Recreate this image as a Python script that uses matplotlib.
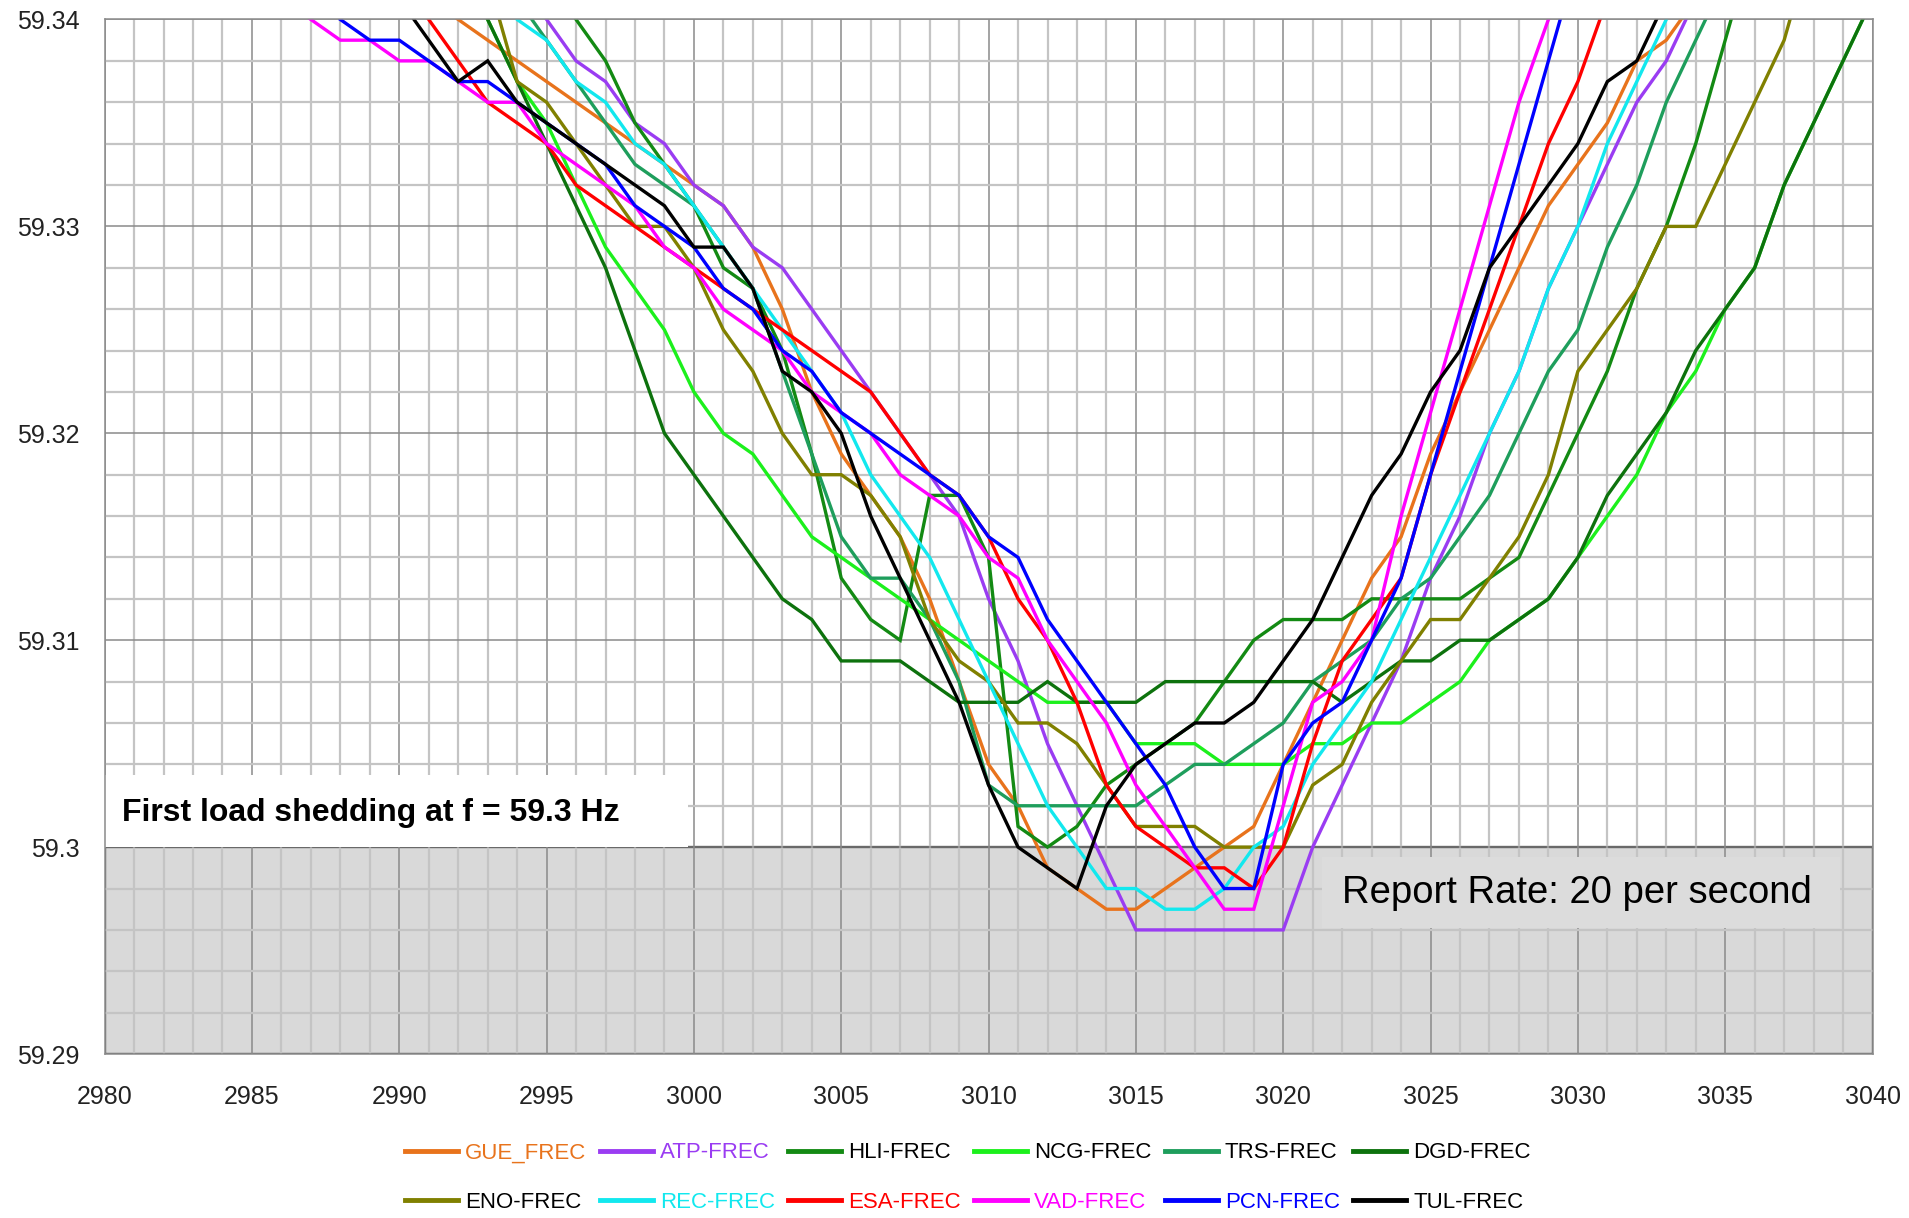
import numpy as np
import matplotlib
matplotlib.use("Agg")
import matplotlib.pyplot as plt
from matplotlib.patches import Rectangle
from matplotlib.ticker import MultipleLocator, FuncFormatter

plt.rcParams['font.family'] = ['Liberation Sans', 'DejaVu Sans']

# frecuencia medida en cada PMU (Hz), una muestra por segundo de reporte
t_gue = np.arange(2991, 3035)
f_gue = [59.341, 59.340, 59.339, 59.338, 59.337, 59.336, 59.335, 59.334, 59.333, 59.332,
         59.331, 59.329, 59.326, 59.322, 59.319, 59.317, 59.315, 59.312, 59.308, 59.304,
         59.302, 59.299, 59.298, 59.297, 59.297, 59.298, 59.299, 59.300, 59.301, 59.304,
         59.307, 59.310, 59.313, 59.315, 59.319, 59.322, 59.325, 59.328, 59.331, 59.333,
         59.335, 59.338, 59.339, 59.341]

t_atp = np.arange(2994, 3035)
f_atp = [59.342, 59.340, 59.338, 59.337, 59.335, 59.334, 59.332,
         59.331, 59.329, 59.328, 59.326, 59.324, 59.322, 59.320, 59.318, 59.316, 59.312,
         59.309, 59.305, 59.302, 59.299, 59.296, 59.296, 59.296, 59.296, 59.296, 59.296,
         59.300, 59.303, 59.306, 59.309, 59.313, 59.316, 59.320, 59.323, 59.327, 59.330,
         59.333, 59.336, 59.338, 59.341]

t_hli = np.arange(2996, 3037)
f_hli = [59.340, 59.338, 59.335, 59.333, 59.331,
         59.328, 59.327, 59.324, 59.319, 59.313, 59.311, 59.310, 59.317, 59.317, 59.314,
         59.301, 59.300, 59.301, 59.303, 59.304, 59.305, 59.306, 59.308, 59.310, 59.311,
         59.311, 59.311, 59.312, 59.312, 59.312, 59.312, 59.313, 59.314, 59.317, 59.320,
         59.323, 59.327, 59.330, 59.334, 59.339, 59.344]

t_ncg = np.arange(2993, 3041)
f_ncg = [59.340, 59.337, 59.335, 59.332, 59.329, 59.327, 59.325, 59.322,
         59.320, 59.319, 59.317, 59.315, 59.314, 59.313, 59.312, 59.311, 59.310, 59.309,
         59.308, 59.307, 59.307, 59.307, 59.305, 59.305, 59.305, 59.304, 59.304, 59.304,
         59.305, 59.305, 59.306, 59.306, 59.307, 59.308, 59.310, 59.311, 59.312, 59.314,
         59.316, 59.318, 59.321, 59.323, 59.326, 59.328, 59.332, 59.335, 59.338, 59.341]

t_trs = np.arange(2994, 3036)
f_trs = [59.341, 59.339, 59.337, 59.335, 59.333, 59.332, 59.331,
         59.329, 59.327, 59.323, 59.319, 59.315, 59.313, 59.313, 59.311, 59.308, 59.303,
         59.302, 59.302, 59.302, 59.302, 59.302, 59.303, 59.304, 59.304, 59.305, 59.306,
         59.308, 59.309, 59.310, 59.312, 59.313, 59.315, 59.317, 59.320, 59.323, 59.325,
         59.329, 59.332, 59.336, 59.339, 59.342]

t_dgd = np.arange(2993, 3041)
f_dgd = [59.340, 59.337, 59.334, 59.331, 59.328, 59.324, 59.320, 59.318,
         59.316, 59.314, 59.312, 59.311, 59.309, 59.309, 59.309, 59.308, 59.307, 59.307,
         59.307, 59.308, 59.307, 59.307, 59.307, 59.308, 59.308, 59.308, 59.308, 59.308,
         59.308, 59.307, 59.308, 59.309, 59.309, 59.310, 59.310, 59.311, 59.312, 59.314,
         59.317, 59.319, 59.321, 59.324, 59.326, 59.328, 59.332, 59.335, 59.338, 59.341]

t_eno = np.arange(2993, 3039)
f_eno = [59.342, 59.337, 59.336, 59.334, 59.332, 59.330, 59.330, 59.328,
         59.325, 59.323, 59.320, 59.318, 59.318, 59.317, 59.315, 59.311, 59.309, 59.308,
         59.306, 59.306, 59.305, 59.303, 59.301, 59.301, 59.301, 59.300, 59.300, 59.300,
         59.303, 59.304, 59.307, 59.309, 59.311, 59.311, 59.313, 59.315, 59.318, 59.323,
         59.325, 59.327, 59.330, 59.330, 59.333, 59.336, 59.339, 59.344]

t_rec = np.arange(2993, 3034)
f_rec = [59.342, 59.340, 59.339, 59.337, 59.336, 59.334, 59.333, 59.331,
         59.329, 59.327, 59.325, 59.323, 59.321, 59.318, 59.316, 59.314, 59.311, 59.308,
         59.305, 59.302, 59.300, 59.298, 59.298, 59.297, 59.297, 59.298, 59.300, 59.301,
         59.304, 59.306, 59.308, 59.311, 59.314, 59.317, 59.320, 59.323, 59.327, 59.330,
         59.334, 59.337, 59.340]

t_esa = np.arange(2990, 3032)
f_esa = [59.342, 59.340, 59.338, 59.336, 59.335, 59.334, 59.332, 59.331, 59.330, 59.329, 59.328,
         59.327, 59.326, 59.325, 59.324, 59.323, 59.322, 59.320, 59.318, 59.317, 59.315,
         59.312, 59.310, 59.307, 59.303, 59.301, 59.300, 59.299, 59.299, 59.298, 59.300,
         59.305, 59.309, 59.311, 59.313, 59.318, 59.322, 59.326, 59.330, 59.334, 59.337,
         59.341]

t_vad = np.arange(2986, 3031)
f_vad = [59.341, 59.340, 59.339, 59.339, 59.338, 59.338, 59.337, 59.336, 59.336, 59.334,
         59.333, 59.332, 59.331, 59.329, 59.328,
         59.326, 59.325, 59.324, 59.322, 59.321, 59.320, 59.318, 59.317, 59.316, 59.314,
         59.313, 59.310, 59.308, 59.306, 59.303, 59.301, 59.299, 59.297, 59.297, 59.302,
         59.307, 59.308, 59.310, 59.316, 59.321, 59.326, 59.331, 59.336, 59.340, 59.344]

t_pcn = np.arange(2988, 3031)
f_pcn = [59.340, 59.339, 59.339, 59.338, 59.337, 59.337, 59.336, 59.335, 59.334, 59.333,
         59.331, 59.330, 59.329,
         59.327, 59.326, 59.324, 59.323, 59.321, 59.320, 59.319, 59.318, 59.317, 59.315,
         59.314, 59.311, 59.309, 59.307, 59.305, 59.303, 59.300, 59.298, 59.298, 59.304,
         59.306, 59.307, 59.310, 59.313, 59.318, 59.323, 59.328, 59.333, 59.338, 59.343]

t_tul = np.arange(2990, 3034)
f_tul = [59.341, 59.339, 59.337, 59.338, 59.336, 59.335, 59.334, 59.333, 59.332, 59.331, 59.329,
         59.329, 59.327, 59.323, 59.322, 59.320, 59.316, 59.313, 59.310, 59.307, 59.303,
         59.300, 59.299, 59.298, 59.302, 59.304, 59.305, 59.306, 59.306, 59.307, 59.309,
         59.311, 59.314, 59.317, 59.319, 59.322, 59.324, 59.328, 59.330, 59.332, 59.334,
         59.337, 59.338, 59.341]

nombres = ["GUE_FREC", "ATP-FREC", "HLI-FREC", "NCG-FREC", "TRS-FREC", "DGD-FREC",
           "ENO-FREC", "REC-FREC", "ESA-FREC", "VAD-FREC", "PCN-FREC", "TUL-FREC"]
tiempos = [t_gue, t_atp, t_hli, t_ncg, t_trs, t_dgd, t_eno, t_rec, t_esa, t_vad, t_pcn, t_tul]
frecs = [f_gue, f_atp, f_hli, f_ncg, f_trs, f_dgd, f_eno, f_rec, f_esa, f_vad, f_pcn, f_tul]
colores = ["#e8731c", "#9a3cf2", "#138a13", "#1cf01c", "#1e9e5c", "#0d720d",
           "#808000", "#12e8ee", "#ff0000", "#ff00ff", "#0000ff", "#000000"]
# color del texto en la leyenda (los verdes y el oliva van en negro)
colTexto = ["#e8731c", "#9a3cf2", "black", "black", "black", "black",
            "black", "#12e8ee", "#ff0000", "#ff00ff", "#0000ff", "black"]

fig = plt.figure(figsize=(19.09, 12.18), dpi=100)
ax = fig.add_axes([0.0548, 0.1346, 0.9261, 0.8494])

# zona bajo el umbral de deslastre
ax.add_patch(Rectangle((2980, 59.29), 60, 0.01, facecolor="#d9d9d9",
                       edgecolor="black", lw=1.6, zorder=0.4))

lineas = []
for t, f, c, n in zip(tiempos, frecs, colores, nombres):
    l, = ax.plot(t, f, color=c, lw=2.4, label=n, zorder=2, solid_joinstyle="miter")
    lineas.append(l)

ax.set_xlim(2980, 3040)
ax.set_ylim(59.29, 59.34)
ax.xaxis.set_major_locator(MultipleLocator(5))
ax.xaxis.set_minor_locator(MultipleLocator(1))
ax.yaxis.set_major_locator(MultipleLocator(0.01))
ax.yaxis.set_minor_locator(MultipleLocator(0.002))
ax.yaxis.set_major_formatter(FuncFormatter(lambda v, p: "%g" % round(v, 3)))
ax.set_axisbelow(True)
ax.grid(which="major", color="#8a8a8a", lw=1.1)
ax.grid(which="minor", color="#c4c4c4", lw=1.6)
ax.tick_params(which="both", length=0)
ax.tick_params(axis="y", labelsize=18, pad=18, labelcolor="#222222")
ax.tick_params(axis="x", labelsize=18, pad=22, labelcolor="#222222")
for s in ax.spines.values():
    s.set_color("#8a8a8a")
    s.set_linewidth(1.1)

# cuadros de texto
ax.add_patch(Rectangle((2980, 59.3), 19.8, 0.0035, facecolor="white",
                       edgecolor="none", zorder=1))
ax.text(2980.6, 59.30165, "First load shedding at f = 59.3 Hz", fontsize=23,
        fontweight="bold", va="center", ha="left", zorder=3)
ax.add_patch(Rectangle((3021.3, 59.2961), 17.6, 0.0034, facecolor="#dcdcdc",
                       edgecolor="none", zorder=1))
ax.text(3022.0, 59.2978, "Report Rate: 20 per second", fontsize=27.5,
        va="center", ha="left", zorder=3)

# leyenda en dos filas de seis (se llena por columnas)
orden = [0, 6, 1, 7, 2, 8, 3, 9, 4, 10, 5, 11]
leg = fig.legend([lineas[i] for i in orden], [nombres[i] for i in orden],
                 loc="center", bbox_to_anchor=(0.507, 0.033), ncol=6, frameon=False,
                 fontsize=16, handlelength=2.4, handletextpad=0.3, columnspacing=0.6,
                 labelspacing=1.3)
for txt, i in zip(leg.get_texts(), orden):
    txt.set_color(colTexto[i])
for h in leg.get_lines():
    h.set_linewidth(3.5)

plt.savefig("out.png", dpi=100)
